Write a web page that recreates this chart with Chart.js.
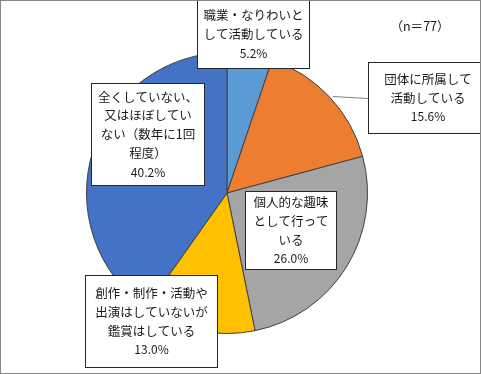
<!DOCTYPE html>
<html>
<head>
<meta charset="utf-8">
<script src="https://cdn.jsdelivr.net/npm/chart.js@4"></script>
<style>
  html, body { margin: 0; padding: 0; background: #fff; }
  #wrap { width: 481px; height: 374px; }
</style>
</head>
<body>
<div id="wrap"><canvas id="pieChart" width="481" height="374"></canvas></div>
<script>
// Pie chart data (n=77)
const categories = [
    ['職業・なりわいと', 'して活動している'],
    ['団体に所属して', '活動している'],
    ['個人的な趣味', 'として行って', 'いる'],
    ['創作・制作・活動や', '出演はしていないが', '鑑賞はしている'],
    ['全くしていない、', '又はほぼしてい', 'ない（数年に1回', '程度）']
];
const percents = [5.2, 15.6, 26.0, 13.0, 40.2];
const sliceColors = ['#5B9BD5', '#ED7D31', '#A5A5A5', '#FFC000', '#4472C4'];
const sampleNote = '（n＝77）';

const FONT = '"Noto Sans CJK JP", "Noto Sans", sans-serif';

// label box placement, same order as categories
const labelBoxes = [
    { x: 197, y: 0, w: 113, h: 69 },
    { x: 368, y: 62, w: 120, h: 72, leader: [333, 96] },
    { x: 245, y: 191, w: 92, h: 79 },
    { x: 85, y: 275, w: 133, h: 93 },
    { x: 91, y: 83, w: 114, h: 103 }
];

const labelPlugin = {
    id: 'labelBoxes',
    afterDatasetsDraw(chart) {
        const ctx = chart.ctx;
        ctx.save();
        labelBoxes.forEach((box, i) => {
            if (box.leader) {
                ctx.strokeStyle = '#7f7f7f';
                ctx.lineWidth = 1;
                ctx.beginPath();
                ctx.moveTo(box.leader[0], box.leader[1] + 0.5);
                ctx.lineTo(box.x, box.y + box.h / 2 + 0.5);
                ctx.stroke();
            }
            ctx.fillStyle = '#fff';
            ctx.fillRect(box.x, box.y, box.w, box.h);
            ctx.strokeStyle = '#262626';
            ctx.lineWidth = 1;
            ctx.strokeRect(box.x + 0.5, box.y + 0.5, box.w - 1, box.h - 1);

            const lines = categories[i].concat([percents[i].toFixed(1) + '%']);
            const lh = 18.8;
            const cx = box.x + box.w / 2;
            const top = box.y + box.h / 2 - (lines.length - 1) * lh / 2;
            ctx.fillStyle = '#1a1a1a';
            ctx.textAlign = 'center';
            ctx.textBaseline = 'middle';
            lines.forEach((line, j) => {
                const isPct = j === lines.length - 1;
                ctx.font = (isPct ? '12px ' : '12.5px ') + FONT;
                ctx.fillText(line, cx, top + j * lh);
            });
        });

        ctx.font = '12.5px ' + FONT;
        ctx.fillStyle = '#1a1a1a';
        ctx.textAlign = 'center';
        ctx.fillText(sampleNote, 420, 26);

        // outer frame
        ctx.strokeStyle = '#868686';
        ctx.strokeRect(0.5, 0.5, chart.width - 1, chart.height - 1);
        ctx.restore();
    }
};

const ctx = document.getElementById('pieChart').getContext('2d');
const pieChart = new Chart(ctx, {
    type: 'pie',
    data: {
        labels: categories,
        datasets: [{
            data: percents,
            backgroundColor: sliceColors,
            borderColor: '#404040',
            borderWidth: 1
        }]
    },
    options: {
        responsive: false,
        animation: false,
        layout: {
            padding: { left: 86, right: 113, top: 52, bottom: 40 }
        },
        plugins: {
            legend: { display: false },
            tooltip: { enabled: false }
        }
    },
    plugins: [labelPlugin]
});
</script>
</body>
</html>
